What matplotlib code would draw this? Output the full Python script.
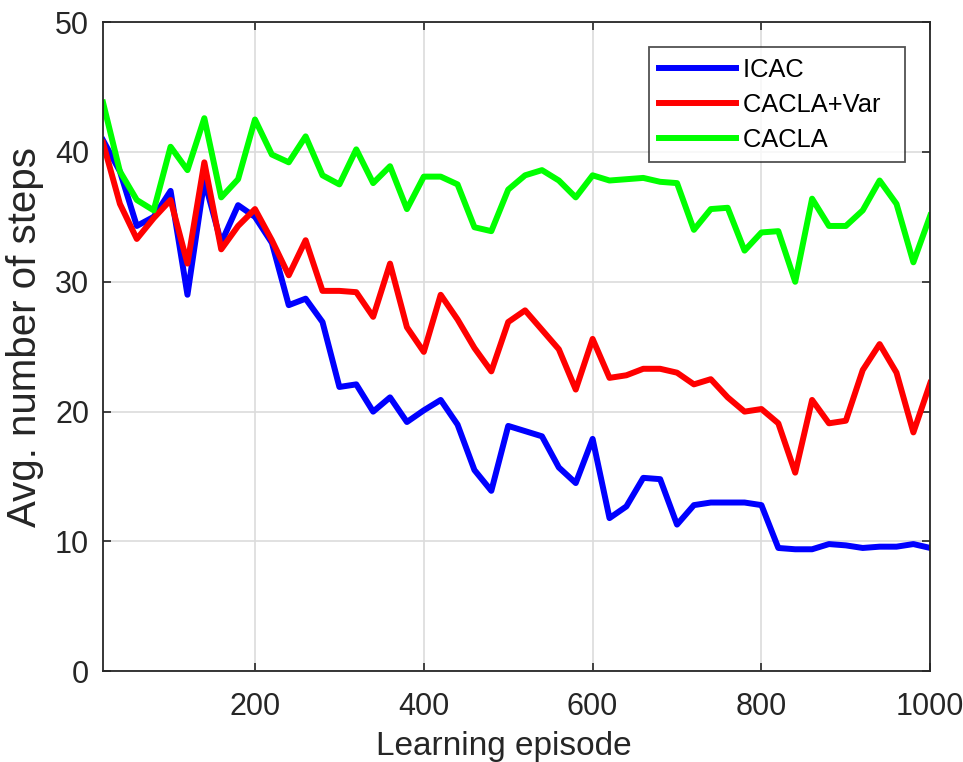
import matplotlib
matplotlib.use('Agg')
import matplotlib.pyplot as plt
import numpy as np

plt.rcParams['font.family'] = ['Liberation Sans', 'DejaVu Sans']

episodes = np.arange(20, 1001, 20)

icac = [40.9, 38.5, 34.3, 35.0, 37.0, 29.0, 37.8, 33.0, 35.9, 35.0,
        33.0, 28.2, 28.7, 26.9, 21.9, 22.1, 20.0, 21.1, 19.2, 20.1,
        20.9, 19.0, 15.5, 13.9, 18.9, 18.5, 18.1, 15.7, 14.5, 17.9,
        11.8, 12.7, 14.9, 14.8, 11.3, 12.8, 13.0, 13.0, 13.0, 12.8,
        9.5, 9.4, 9.4, 9.8, 9.7, 9.5, 9.6, 9.6, 9.8, 9.5]

cacla_var = [40.7, 36.0, 33.3, 34.9, 36.3, 31.4, 39.2, 32.5, 34.3, 35.6,
             33.2, 30.5, 33.2, 29.3, 29.3, 29.2, 27.3, 31.4, 26.5, 24.6,
             29.0, 27.1, 24.9, 23.1, 26.9, 27.8, 26.3, 24.8, 21.7, 25.6,
             22.6, 22.8, 23.3, 23.3, 23.0, 22.1, 22.5, 21.1, 20.0, 20.2,
             19.1, 15.3, 20.9, 19.1, 19.3, 23.2, 25.2, 23.0, 18.4, 22.2]

cacla = [43.8, 38.5, 36.3, 35.5, 40.4, 38.6, 42.6, 36.5, 37.9, 42.5,
         39.8, 39.2, 41.2, 38.2, 37.5, 40.2, 37.6, 38.9, 35.6, 38.1,
         38.1, 37.5, 34.2, 33.9, 37.1, 38.2, 38.6, 37.8, 36.5, 38.2,
         37.8, 37.9, 38.0, 37.7, 37.6, 34.0, 35.6, 35.7, 32.4, 33.8,
         33.9, 30.0, 36.4, 34.3, 34.3, 35.5, 37.8, 36.0, 31.5, 35.1]

fig = plt.figure(figsize=(9.63, 7.62), dpi=100)
ax = fig.add_axes([0.107, 0.119, 0.859, 0.852])

# trailing spaces give the wider right margin of the MATLAB-style legend box
ax.plot(episodes, icac, color='#0000ff', lw=4.3, label='ICAC  ')
ax.plot(episodes, cacla_var, color='#ff0000', lw=4.3, label='CACLA+Var  ')
ax.plot(episodes, cacla, color='#00ff00', lw=4.3, label='CACLA  ')

ax.set_xlim(20, 1000)
ax.set_ylim(0, 50)
ax.set_xticks([200, 400, 600, 800, 1000])
ax.set_yticks([0, 10, 20, 30, 40, 50])
ax.grid(True, color='#dcdcdc', lw=1.2)
ax.tick_params(direction='in', top=True, right=True, labelsize=22,
               length=6, width=1.2, colors='#262626', pad=10)
ax.tick_params(axis='x', pad=15)
for s in ax.spines.values():
    s.set_color('#262626')
    s.set_linewidth(1.3)

ax.set_xlabel('Learning episode', fontsize=24, color='#262626')
ax.set_ylabel('Avg. number of steps', fontsize=29, color='#262626')
ax.xaxis.set_label_coords(0.484, -0.092)
ax.yaxis.set_label_coords(-0.071, 0.515)

leg = ax.legend(loc='upper right', bbox_to_anchor=(0.970, 0.961), fontsize=18.4,
                fancybox=False, edgecolor='#262626', handlelength=3.0,
                borderpad=0.4, labelspacing=0.43, handletextpad=0.3,
                borderaxespad=0)
leg.get_frame().set_linewidth(1.3)

fig.savefig('out.png', dpi=100)
